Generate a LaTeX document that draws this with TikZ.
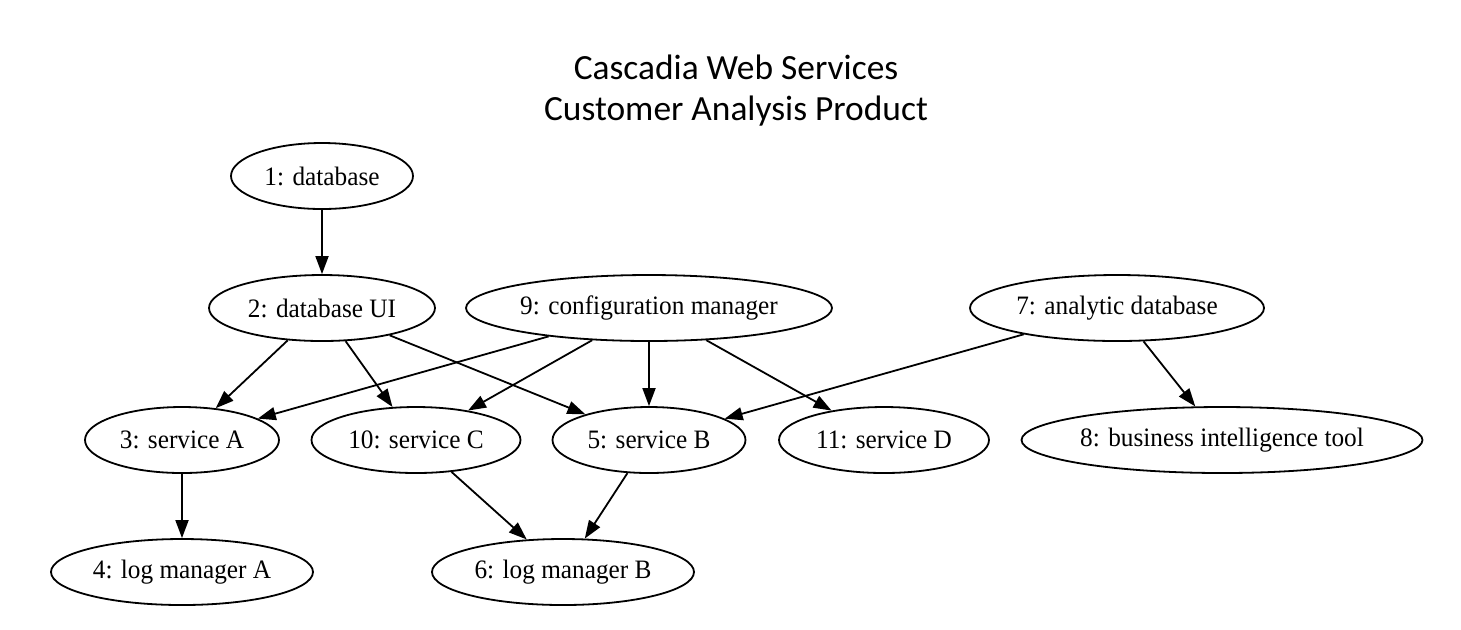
\documentclass[tikz,border=0pt]{standalone}
\usepackage{fontspec}
\setmainfont{Liberation Serif}[FakeStretch=0.95]
\newfontfamily\titlefont{Carlito}
\usetikzlibrary{shapes.geometric,arrows.meta}
\begin{document}
\begin{tikzpicture}[x=0.5pt,y=-0.5pt,
    box/.style={draw, ellipse, line width=0.9pt, minimum height=33pt, inner sep=0pt, font=\fontsize{13.3}{15}\selectfont},
    link/.style={-{Triangle[length=9pt,width=6.5pt]}, line width=0.9pt}]
            \useasboundingbox (0,0) rectangle (1461,629);
            \node[align=center, inner sep=0pt, font=\titlefont\fontsize{17.7}{20.5}\selectfont] (title) at (736,91) {Cascadia Web Services\\Customer Analysis Product};
            \node[box, minimum width=91pt] (db) at (322,176) {1: database};
            \node[box, minimum width=113pt] (dbui) at (322,308) {2: database UI};
            \node[box, minimum width=183pt] (cfg) at (649,308) {9: configuration manager};
            \node[box, minimum width=147pt] (adb) at (1117,308) {7: analytic database};
            \node[box, minimum width=97pt] (svca) at (182,440) {3: service A};
            \node[box, minimum width=104.5pt] (svcc) at (416,440) {10: service C};
            \node[box, minimum width=96.5pt] (svcb) at (649,440) {5: service B};
            \node[box, minimum width=105pt] (svcd) at (884,440) {11: service D};
            \node[box, minimum width=200pt] (bi) at (1222,440) {8: business intelligence tool};
            \node[box, minimum width=131pt] (loga) at (182,572) {4: log manager A};
            \node[box, minimum width=131pt] (logb) at (563,572) {6: log manager B};
            \draw[link] (db) -- (dbui);
            \draw[link] (dbui) -- (svca);
            \draw[link] (dbui) -- (svcc);
            \draw[link] (dbui) -- (svcb);
            \draw[link] (cfg) -- (svca);
            \draw[link] (cfg) -- (svcc);
            \draw[link] (cfg) -- (svcb);
            \draw[link] (cfg) -- (svcd);
            \draw[link] (adb) -- (svcb);
            \draw[link] (adb) -- (bi);
            \draw[link] (svca) -- (loga);
            \draw[link] (svcc) -- (logb);
            \draw[link] (svcb) -- (logb);
        \end{tikzpicture}
\end{document}
